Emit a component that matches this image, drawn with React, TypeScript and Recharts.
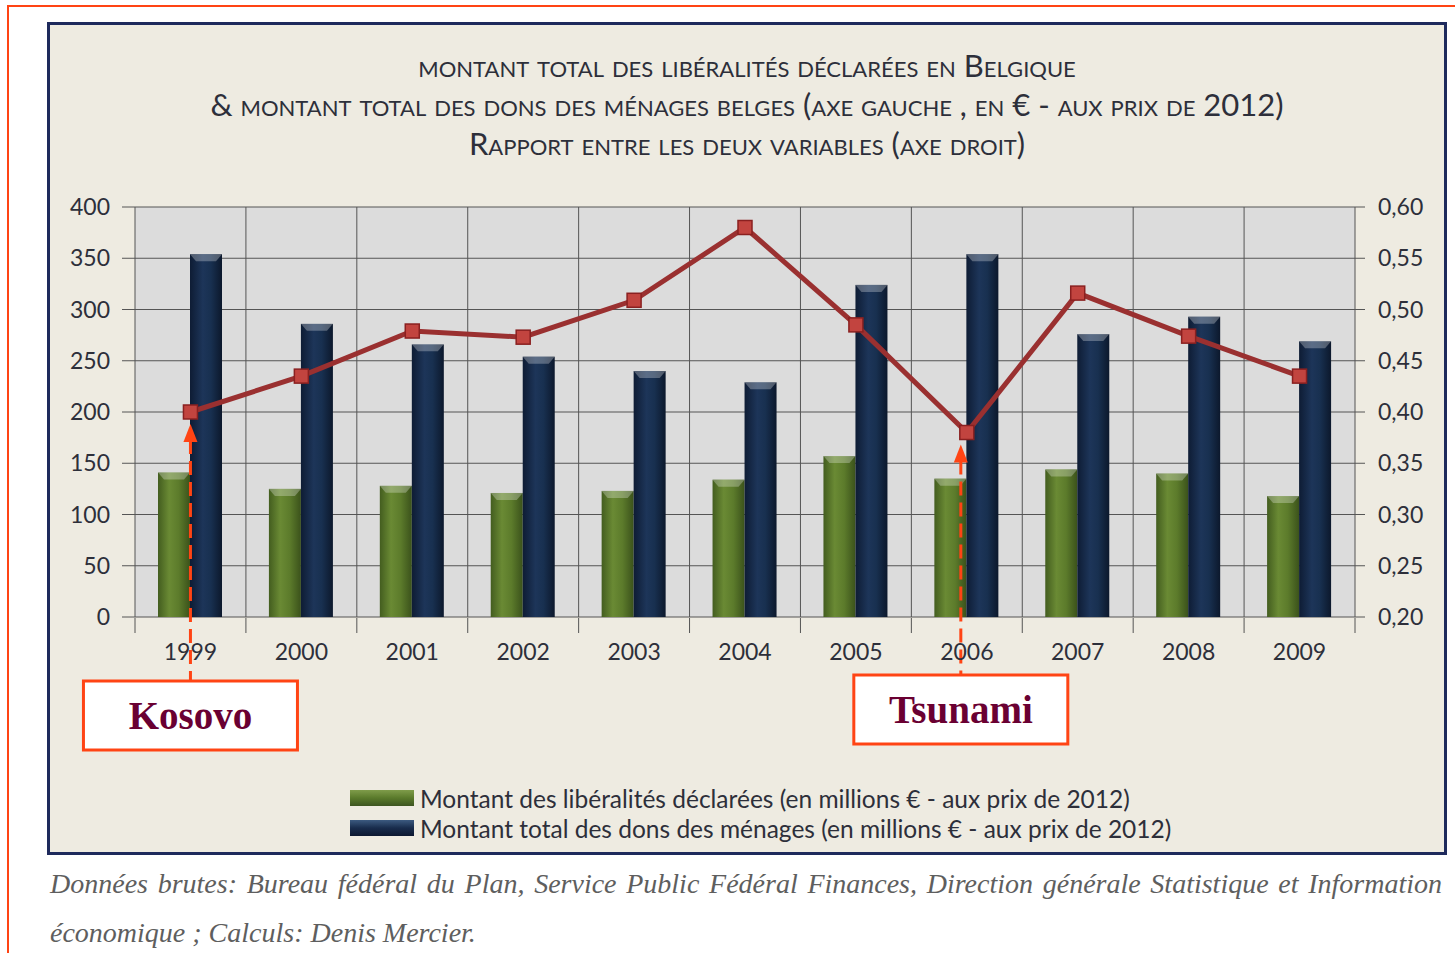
import React from "react";
import { ComposedChart, Bar, Line, XAxis, YAxis, CartesianGrid } from "recharts";

const years = ["1999", "2000", "2001", "2002", "2003", "2004", "2005", "2006", "2007", "2008", "2009"];
const liberalites = [141, 125, 128, 121, 123, 134, 157, 135, 144, 140, 118];
const dons = [354, 286, 266, 254, 240, 229, 324, 354, 276, 293, 269];
const rapport = [0.4, 0.435, 0.479, 0.473, 0.509, 0.58, 0.485, 0.38, 0.516, 0.474, 0.435];

const leftTicks = [0, 50, 100, 150, 200, 250, 300, 350, 400];
const rightTicks = [0.2, 0.25, 0.3, 0.35, 0.4, 0.45, 0.5, 0.55, 0.6];
const boundaryTicks = [0, 1, 2, 3, 4, 5, 6, 7, 8, 9, 10, 11];

const seriesNames = [
  "Montant des libéralités déclarées (en millions € - aux prix de 2012)",
  "Montant total des dons des ménages (en millions € - aux prix de 2012)",
];
const titleLines = [
  "montant total des libéralités déclarées en Belgique",
  "& montant total des dons des ménages belges (axe gauche , en € - aux prix de 2012)",
  "Rapport entre les deux variables (axe droit)",
];
const annotations = [
  { year: "1999", label: "Kosovo" },
  { year: "2006", label: "Tsunami" },
];
const sourceText =
  "Données brutes: Bureau fédéral du Plan, Service Public Fédéral Finances, Direction générale Statistique et Information économique ; Calculs: Denis Mercier.";

const data = years.map((year, i) => ({
  year,
  pos: i + 0.5,
  liberalites: liberalites[i],
  dons: dons[i],
  rapport: rapport[i],
}));

// layout of the chart inside the navy frame
const W = 1394;
const H = 827;
const PLOT_BOTTOM = 592;
const BOX_W = 214;
const BOX_H = 69;
const boxNudge: Record<string, { dx: number; dy: number }> = {
  Kosovo: { dx: 0, dy: 64 },
  Tsunami: { dx: -6, dy: 58 },
};
const ORANGE = "#FF4414";
const GRID = "#555555";
const TEXT = "#2d2f3a";

const fmtRight = (v: number) => v.toFixed(2).replace(".", ",");

// vertical grid lines sit on category boundaries, not on centres
const boundaryLines = ({ offset }: any) =>
  boundaryTicks.map((i) => offset.left + (i * offset.width) / years.length);

function GlossBar(props: any) {
  const { x, y, width, height, fill } = props;
  if (!height || height <= 0) return null;
  return (
    <g>
      <rect x={x} y={y} width={width} height={height} fill={fill} />
      <polygon
        points={`${x},${y} ${x + width},${y} ${x + width - 6},${y + 7} ${x + 6},${y + 7}`}
        fill="rgba(255,255,255,0.28)"
      />
    </g>
  );
}

function RatioDot(props: any) {
  const { cx, cy, payload, index } = props;
  if (cx == null || cy == null) return null;
  const ann = annotations.find((a) => a.year === payload.year);
  const nudge = ann ? boxNudge[ann.label] : { dx: 0, dy: 0 };
  const ax = cx + nudge.dx;
  const tip = cy + 12;
  const boxTop = PLOT_BOTTOM + nudge.dy;
  return (
    <g key={`dot-${index}`}>
      {ann && (
        <g>
          <line
            x1={ax}
            y1={tip + 16}
            x2={ax}
            y2={boxTop}
            stroke={ORANGE}
            strokeWidth={3}
            strokeDasharray="14 7"
          />
          <polygon points={`${ax},${tip} ${ax - 7},${tip + 18} ${ax + 7},${tip + 18}`} fill={ORANGE} />
          <rect
            x={ax - BOX_W / 2}
            y={boxTop}
            width={BOX_W}
            height={BOX_H}
            fill="#ffffff"
            stroke={ORANGE}
            strokeWidth={3}
          />
          <text
            x={ax}
            y={boxTop + BOX_H / 2 + 13}
            textAnchor="middle"
            fontFamily="'Liberation Serif', serif"
            fontWeight="bold"
            fontSize={39}
            fill="#6a0032"
          >
            {ann.label}
          </text>
        </g>
      )}
      <rect x={cx - 7} y={cy - 7} width={14} height={14} fill="#c2443f" stroke="#8a2020" strokeWidth={1.5} />
    </g>
  );
}

const noLabel = () => <g />;

export default function App() {
  return (
    <div
      style={{
        position: "absolute",
        left: 0,
        top: 0,
        width: 1455,
        height: 953,
        overflow: "hidden",
        background: "#ffffff",
      }}
    >
      {/* orange page frame */}
      <div
        style={{
          position: "absolute",
          left: 7,
          top: 5,
          width: 1470,
          height: 980,
          borderLeft: `2px solid ${ORANGE}`,
          borderTop: `2px solid ${ORANGE}`,
        }}
      />
      {/* navy chart frame */}
      <div
        style={{
          position: "absolute",
          left: 47,
          top: 22,
          width: 1394,
          height: 827,
          border: "3px solid #1e2a5c",
          background: "#eeebe1",
        }}
      >
        <div
          style={{
            position: "absolute",
            left: 0,
            top: 21,
            width: "100%",
            textAlign: "center",
            fontFamily: "Lato, sans-serif",
            fontVariant: "small-caps",
            fontSize: 31,
            lineHeight: "39px",
            color: TEXT,
          }}
        >
          {titleLines.map((t) => (
            <div key={t}>{t}</div>
          ))}
        </div>

        <div style={{ position: "absolute", left: 0, top: 0 }}>
          <ComposedChart
            width={W}
            height={H}
            data={data}
            margin={{ top: 182, right: 14, bottom: 219, left: 15 }}
            barGap={0}
          >
            <defs>
              <linearGradient id="greenBar" x1="0" y1="0" x2="1" y2="0">
                <stop offset="0%" stopColor="#435d1f" />
                <stop offset="35%" stopColor="#6a8a34" />
                <stop offset="65%" stopColor="#5c7b2b" />
                <stop offset="100%" stopColor="#3b521b" />
              </linearGradient>
              <linearGradient id="navyBar" x1="0" y1="0" x2="1" y2="0">
                <stop offset="0%" stopColor="#0e1c34" />
                <stop offset="40%" stopColor="#1d3559" />
                <stop offset="65%" stopColor="#183050" />
                <stop offset="100%" stopColor="#0c182c" />
              </linearGradient>
            </defs>
            <CartesianGrid
              yAxisId="left"
              fill="#dcdcdc"
              stroke={GRID}
              strokeWidth={1}
              verticalCoordinatesGenerator={boundaryLines}
            />
            <XAxis
              xAxisId="grid"
              dataKey="pos"
              type="number"
              domain={[0, 11]}
              ticks={boundaryTicks}
              interval={0}
              tick={noLabel}
              tickSize={15}
              tickLine={{ stroke: GRID }}
              axisLine={false}
              height={15}
              allowDataOverflow
            />
            <XAxis
              xAxisId="cat"
              dataKey="year"
              tickLine={false}
              axisLine={false}
              tickSize={0}
              tickMargin={27}
              height={1}
              interval={0}
              tick={{ fill: TEXT, fontSize: 23, fontFamily: "Lato, sans-serif" }}
            />
            <YAxis
              yAxisId="left"
              domain={[0, 400]}
              ticks={leftTicks}
              interval={0}
              width={70}
              tickSize={13}
              tickMargin={12}
              tickLine={{ stroke: GRID }}
              axisLine={false}
              tick={{ fill: TEXT, fontSize: 23, fontFamily: "Lato, sans-serif" }}
            />
            <YAxis
              yAxisId="right"
              orientation="right"
              domain={[0.2, 0.6]}
              ticks={rightTicks}
              interval={0}
              width={75}
              tickSize={10}
              tickMargin={13}
              tickLine={{ stroke: GRID }}
              axisLine={false}
              tickFormatter={fmtRight}
              tick={{ fill: TEXT, fontSize: 23, fontFamily: "Lato, sans-serif" }}
            />
            <Bar
              xAxisId="cat"
              yAxisId="left"
              dataKey="liberalites"
              name={seriesNames[0]}
              fill="url(#greenBar)"
              barSize={32}
              shape={GlossBar}
              isAnimationActive={false}
            />
            <Bar
              xAxisId="cat"
              yAxisId="left"
              dataKey="dons"
              name={seriesNames[1]}
              fill="url(#navyBar)"
              barSize={32}
              shape={GlossBar}
              isAnimationActive={false}
            />
            <Line
              xAxisId="cat"
              yAxisId="right"
              dataKey="rapport"
              stroke="#9a3030"
              strokeWidth={5}
              dot={RatioDot}
              activeDot={false}
              isAnimationActive={false}
            />
          </ComposedChart>
        </div>

        {/* legend */}
        <div
          style={{
            position: "absolute",
            left: 300,
            top: 758,
            fontFamily: "Lato, sans-serif",
            fontSize: 24.5,
            color: TEXT,
          }}
        >
          {seriesNames.map((name, i) => (
            <div key={name} style={{ display: "flex", alignItems: "center", height: 30 }}>
              <span
                style={{
                  display: "inline-block",
                  width: 64,
                  height: 16,
                  marginRight: 6,
                  background:
                    i === 0
                      ? "linear-gradient(#7f9c4a, #5a7a2b 50%, #3d5520)"
                      : "linear-gradient(#3c5a80, #182c4c 50%, #0c1830)",
                }}
              />
              {name}
            </div>
          ))}
        </div>
      </div>

      {/* source note */}
      <div
        style={{
          position: "absolute",
          left: 50,
          top: 859,
          width: 1392,
          fontFamily: "'Liberation Serif', serif",
          fontStyle: "italic",
          fontSize: 28,
          lineHeight: "49px",
          color: "#5e5e5e",
          textAlign: "justify",
        }}
      >
        {sourceText}
      </div>
    </div>
  );
}
